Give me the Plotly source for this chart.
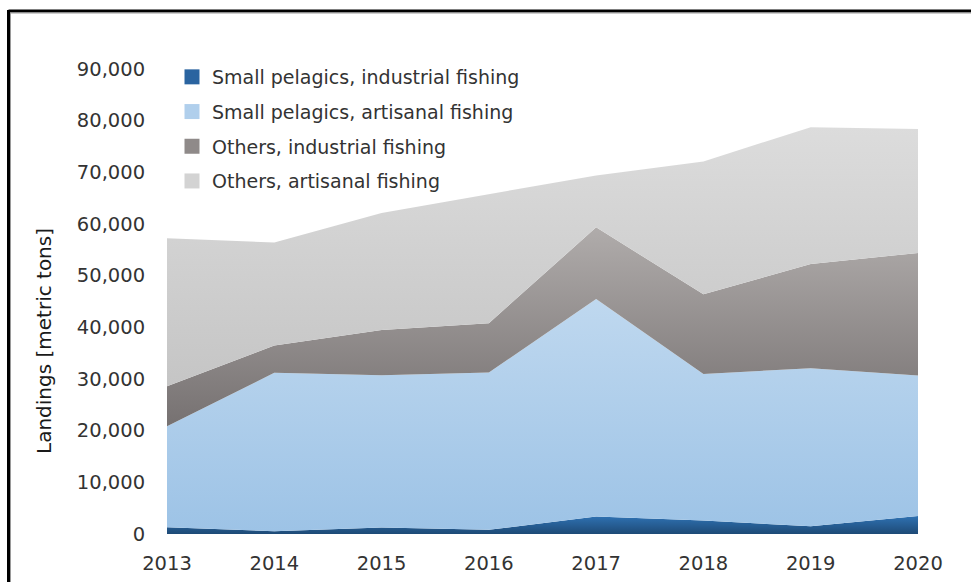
import numpy as np
import plotly.graph_objects as go

years = [2013, 2014, 2015, 2016, 2017, 2018, 2019, 2020]
small_pelagics_industrial = [1300, 550, 1250, 800, 3400, 2600, 1500, 3500]
small_pelagics_artisanal = [19550, 30650, 29500, 30450, 42100, 28350, 30600, 27200]
others_industrial = [7750, 5300, 8750, 9550, 13850, 15450, 20150, 23700]
others_artisanal = [28650, 19900, 22650, 25000, 10050, 25700, 26500, 24000]

names = ["Small pelagics, industrial fishing", "Small pelagics, artisanal fishing",
         "Others, industrial fishing", "Others, artisanal fishing"]
series = [small_pelagics_industrial, small_pelagics_artisanal, others_industrial, others_artisanal]
grad = [("#1E4A76", "#2F72B3"), ("#9DC3E6", "#BFD8EF"), ("#767171", "#B0ACAB"), ("#C5C5C5", "#DCDCDC")]
swatch = ["#2A64A0", "#B0CFEC", "#8F8A89", "#D3D3D3"]

fig = go.Figure()
cum = np.zeros(len(years))
for nm, vals, (c0, c1) in zip(names, series, grad):
    bottom = cum.copy()
    cum = cum + np.array(vals)
    fig.add_trace(go.Scatter(
        x=years, y=vals, name=nm, stackgroup="one", mode="lines",
        line=dict(width=0), legendgroup=nm, showlegend=False,
        fillgradient=dict(type="vertical", colorscale=[[0, c0], [1, c1]],
                          start=float(bottom.min()), stop=float(cum.max())),
    ))
for nm, c in zip(names, swatch):
    fig.add_trace(go.Scatter(x=[None], y=[None], mode="markers", name=nm, legendgroup=nm,
                             marker=dict(symbol="square", size=15, color=c)))

L, R, T, B = 167, 53, 69, 48
W, H = 971, 582
pw, ph = W - L - R, H - T - B

def px(x):
    return (x - L) / pw

def py(y):
    return (H - B - y) / ph

fig.update_layout(
    width=W, height=H, margin=dict(l=L, r=R, t=T, b=B, autoexpand=False),
    paper_bgcolor="white", plot_bgcolor="white",
    font=dict(family="DejaVu Sans", color="#333333", size=19),
    showlegend=True,
    legend=dict(x=px(172), y=py(58), xanchor="left", yanchor="top",
                traceorder="grouped", tracegroupgap=7, itemwidth=30,
                font=dict(size=19, color="#333333"), bgcolor="rgba(0,0,0,0)"),
    xaxis=dict(range=[2013, 2020], tickvals=years, showgrid=False, zeroline=False,
               showline=False, ticks="outside", ticklen=12, tickcolor="rgba(0,0,0,0)",
               tickfont=dict(size=19.5), automargin=False),
    yaxis=dict(range=[0, 90000], dtick=10000, tickformat=",d", showgrid=False,
               zeroline=False, showline=False, ticks="outside", ticklen=17,
               tickcolor="rgba(0,0,0,0)", tickfont=dict(size=19.5), automargin=False),
    annotations=[dict(text="Landings [metric tons]", textangle=-90, xref="paper", yref="paper",
                      x=px(44), y=py(341), xanchor="center", yanchor="middle",
                      showarrow=False, font=dict(size=20, color="#1a1a1a"))],
    shapes=[
        dict(type="line", xref="paper", yref="paper", x0=px(8.5), x1=px(980), y0=py(11), y1=py(11),
             line=dict(color="black", width=3)),
        dict(type="line", xref="paper", yref="paper", x0=px(8.5), x1=px(8.5), y0=py(10), y1=py(600),
             line=dict(color="black", width=3)),
        dict(type="line", xref="paper", yref="paper", x0=px(10.5), x1=px(980), y0=py(13), y1=py(13),
             line=dict(color="#9a9a9a", width=1)),
        dict(type="line", xref="paper", yref="paper", x0=px(10.5), x1=px(10.5), y0=py(13), y1=py(600),
             line=dict(color="#9a9a9a", width=1)),
    ],
)

fig.write_html("out.html")
